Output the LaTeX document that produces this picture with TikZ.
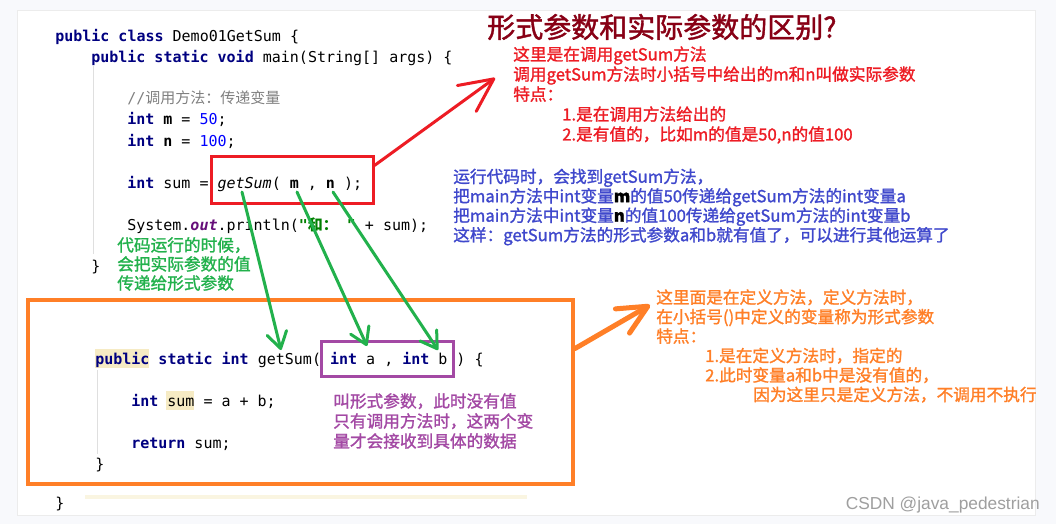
\documentclass[tikz,border=0pt]{standalone}
\usepackage{fontspec}
\usetikzlibrary{arrows.meta,positioning}
\newfontfamily\cjk{Noto Sans CJK SC}
\newfontfamily\cjkb[FakeBold=1.4]{Noto Sans CJK SC}
\newfontfamily\codefont{DejaVu Sans Mono}
\newfontfamily\markfont{Liberation Sans}
\definecolor{KwClr}{RGB}{0,0,128}
\definecolor{NumClr}{RGB}{0,0,255}
\definecolor{CmtClr}{RGB}{128,128,128}
\definecolor{OutClr}{RGB}{102,14,122}
\definecolor{StrClr}{RGB}{0,128,0}
\definecolor{MarkClr}{RGB}{246,235,196}
\definecolor{RedClr}{RGB}{237,28,36}
\definecolor{GreenClr}{RGB}{34,177,76}
\definecolor{BlueClr}{RGB}{63,72,204}
\definecolor{OrangeClr}{RGB}{255,127,39}
\definecolor{PurpleClr}{RGB}{163,73,164}
\definecolor{TitleClr}{RGB}{136,0,21}
\definecolor{PageClr}{RGB}{248,249,252}
\newcommand\kw[1]{\textcolor{KwClr}{\bfseries #1}}
\newcommand\numtok[1]{\textcolor{NumClr}{#1}}

\begin{document}
\begin{tikzpicture}[x=0.75pt,y=-0.75pt,
  codetxt/.style={font=\codefont\fontsize{11.25}{14}\selectfont,inner sep=0,anchor=west,text height=8pt,text depth=2.5pt,yshift=-2pt},
  note/.style={font=\cjkb\fontsize{12.5}{15}\selectfont,inner sep=0,anchor=west,align=left},
  hand/.style={line width=2.25pt,line cap=round,line join=round}]

\fill[PageClr] (0,0) rectangle (1056,524);
\useasboundingbox (0,0) rectangle (1056,524);
\filldraw[fill=white,draw=gray!15] (17,10) rectangle (1035,515);

% highlights and guides
\fill[MarkClr] (95,349) rectangle (149,368);
\fill[MarkClr] (166,391) rectangle (194,410);
\fill[MarkClr!50] (85,495) rectangle (527,499);
\draw[gray!25] (93,66) -- (93,254);
\draw[gray!25] (97,370) -- (97,454);

% code
\node[codetxt] (cls) at (55,35) {\kw{public class} Demo01GetSum \{};
\node[codetxt] (mainm) at (91,56) {\kw{public static void} main(String[] args) \{};
\node[codetxt,text=CmtClr] (cmt) at (127,97) {//{\cjk 调用方法：传递变量}};
\node[codetxt] (varm) at (127,118) {\kw{int} {\bfseries m} = \numtok{50};};
\node[codetxt] (varn) at (127,140) {\kw{int} {\bfseries n} = \numtok{100};};
\node[codetxt] (sumc) at (127,182) {\kw{int} sum = {\itshape getSum}( {\bfseries m} , {\bfseries n} );};
\node[codetxt] (prt) at (127,224) {System.\textcolor{OutClr}{\bfseries\itshape out}.println(\textcolor{StrClr}{\bfseries"{\cjk 和：} "} + sum);};
\node[codetxt] (mainend) at (91,265) {\}};
\node[codetxt] (defl) at (95,358) {\kw{public static int} getSum( \kw{int} a , \kw{int} b ) \{};
\node[codetxt] (suml) at (131,400) {\kw{int} sum = a + b;};
\node[codetxt] (retl) at (131,442) {\kw{return} sum;};
\node[codetxt] (defend) at (95,463) {\}};
\node[codetxt] (clsend) at (55,502) {\}};

% boxes
\node[draw=RedClr,line width=2.25pt,minimum width=121.5pt,minimum height=34.5pt,inner sep=0] (callbox) at (292,180) {};
\node[draw=PurpleClr,line width=2.25pt,minimum width=99pt,minimum height=26.25pt,inner sep=0] (parbox) at (387,358.5) {};
\node[draw=OrangeClr,line width=3pt,minimum width=408.75pt,minimum height=138pt,inner sep=0] (defbox) at (300.5,392) {};

% notes
\node[font=\cjkb\fontsize{21}{24}\selectfont,text=TitleClr,inner sep=0,anchor=west] (title) at (487,27) {形式参数和实际参数的区别?};
\node[note,text=RedClr] (calltxt) at (513,95) {这里是在调用getSum方法\\调用getSum方法时小括号中给出的m和n叫做实际参数\\特点：\\\hspace*{36.75pt}1.是在调用方法给出的\\\hspace*{36.75pt}2.是有值的，比如m的值是50,n的值100};
\node[note,text=BlueClr,font=\cjkb\fontsize{12.5}{14.6}\selectfont] (runtxt) at (453,207) {运行代码时，会找到getSum方法，\\把main方法中int变量{\color{black}\bfseries m}的值50传递给getSum方法的int变量a\\把main方法中int变量{\color{black}\bfseries n}的值100传递给getSum方法的int变量b\\这样：getSum方法的形式参数a和b就有值了，可以进行其他运算了};
\node[note,text=GreenClr,font=\cjkb\fontsize{12.5}{14.3}\selectfont] (passtxt) at (117,264) {代码运行的时候，\\会把实际参数的值\\传递给形式参数};
\node[note,text=OrangeClr,font=\cjkb\fontsize{12.5}{14.6}\selectfont] (deftxt) at (656,346) {这里面是在定义方法，定义方法时，\\在小括号()中定义的变量称为形式参数\\特点：\\\hspace*{36.75pt}1.是在定义方法时，指定的\\\hspace*{36.75pt}2.此时变量a和b中是没有值的，\\\hspace*{72.75pt}因为这里只是定义方法，不调用不执行};
\node[note,text=PurpleClr] (formaltxt) at (333,421) {叫形式参数，此时没有值\\只有调用方法时，这两个变\\量才会接收到具体的数据};
\node[font=\markfont\fontsize{13}{15}\selectfont,text=gray!75,inner sep=0,anchor=east] (mark) at (1040,505) {CSDN @java\_pedestrian};

% arrows
\coordinate (calltip) at (495,78);
\coordinate (gs) at (242,192);
\coordinate (mm) at (297,192);
\coordinate (nn) at (333,192);
\coordinate (ga) at (281,350);
\coordinate (aa) at (367,346);
\coordinate (bb) at (438,350);
\coordinate (deftip) at (650,305);

\draw[hand,RedClr,-{Straight Barb[length=25pt,width=24pt,round]}] (callbox.10) -- (calltip);
\draw[hand,GreenClr,-{Straight Barb[length=12pt,width=15pt,round]}] (gs) -- (ga);
\draw[hand,GreenClr,-{Straight Barb[length=12pt,width=15pt,round]}] (mm) -- (aa);
\draw[hand,GreenClr,-{Straight Barb[length=12pt,width=15pt,round]}] (nn) -- (bb);
\draw[hand,OrangeClr,line width=3.75pt,-{Straight Barb[length=22pt,width=21pt,round]}] (defbox.9) -- (deftip);

\end{tikzpicture}
\end{document}
